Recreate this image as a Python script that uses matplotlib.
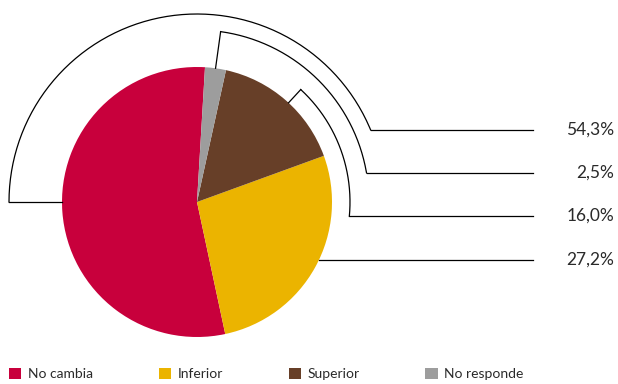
import matplotlib.pyplot as plt
import numpy as np

categories = ["No cambia", "Inferior", "Superior", "No responde"]
values = [54.3, 27.2, 16.0, 2.5]
labels = ["54,3%", "27,2%", "16,0%", "2,5%"]
colors = ["#C8003C", "#EBB400", "#673F28", "#9D9D9D"]

plt.rcParams['font.family'] = ['Lato', 'DejaVu Sans']

fig = plt.figure(figsize=(6.18, 3.84), dpi=100)
ax = fig.add_axes([0, 0, 1, 1])

start = 86.6
wedges, _ = ax.pie(values, colors=colors, startangle=start, counterclock=True,
                   radius=1, center=(0, 0), wedgeprops=dict(linewidth=0))

# scale: 135 px per unit, pie centre at (197, 202) px from top-left
px = 135.0
ax.set_xlim(-197 / px, (618 - 197) / px)
ax.set_ylim(-(384 - 202) / px, 202 / px)
ax.set_aspect('equal')
ax.axis('off')

# mid angles of the wedges
edges = start + np.concatenate([[0], np.cumsum(values)]) * 3.6
mids = ((edges[:-1] + edges[1:]) / 2) % 360

# label rows (y in data units), right end of leader lines, text x
row_y = {"No cambia": 0.533, "No responde": 0.215, "Superior": -0.104, "Inferior": -0.43}
line_end = (533 - 197) / px
text_x = (614 - 197) / px
lc = "black"
lw = 0.9

def leader(a0, r, y):
    # radial piece from pie edge, then arc clockwise, then horizontal line
    t0 = np.radians(a0)
    ax.plot([np.cos(t0), r * np.cos(t0)], [np.sin(t0), r * np.sin(t0)], color=lc, lw=lw)
    a1 = np.degrees(np.arcsin(y / r))
    tt = np.radians(np.linspace(a0, a1, 200))
    ax.plot(r * np.cos(tt), r * np.sin(tt), color=lc, lw=lw)
    ax.plot([r * np.cos(np.radians(a1)), line_end], [y, y], color=lc, lw=lw)

leader(180, 188 / px, row_y["No cambia"])
leader(mids[3], 172 / px, row_y["No responde"])
leader(mids[2] - 1.5, 153 / px, row_y["Superior"])
yi = row_y["Inferior"]
ax.plot([np.sqrt(1 - yi ** 2), line_end], [yi, yi], color=lc, lw=lw)

for cat, lab in zip(categories, labels):
    ax.text(text_x, row_y[cat], lab, ha='right', va='center', fontsize=12.5, color="#2a2a2a")

fig.legend(wedges, categories, loc='lower left', bbox_to_anchor=(0.003, -0.008), ncol=4,
           frameon=False, fontsize=10, handlelength=0.9, handleheight=0.9,
           handletextpad=0.45, columnspacing=4.75, borderpad=0.0, labelcolor="#2a2a2a")

fig.savefig("out.png", dpi=100)
